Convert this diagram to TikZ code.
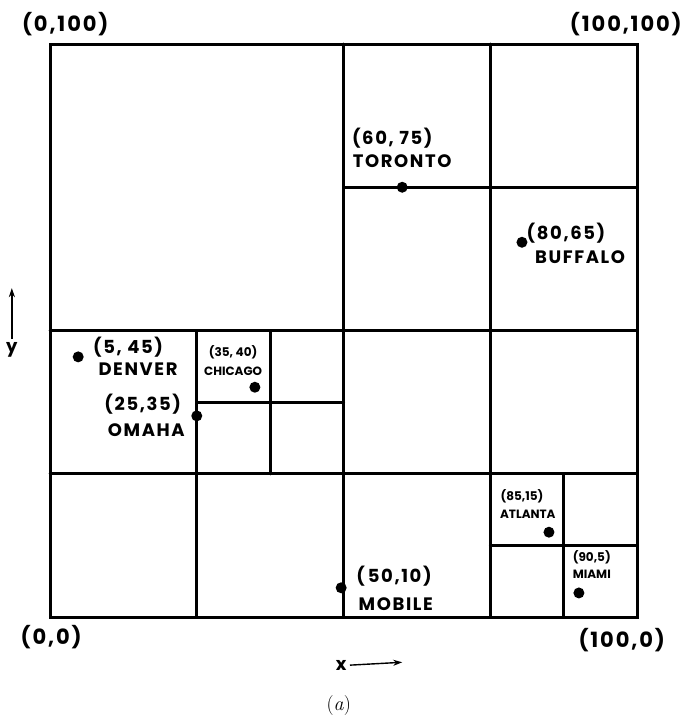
\documentclass[tikz,border=0pt]{standalone}
\usepackage{fontspec}
\usetikzlibrary{arrows.meta}
\newfontfamily\leroy[LetterSpace=9]{Poppins}
\newfontfamily\leroytight[LetterSpace=0]{Poppins}
\tikzset{
  cornerlbl/.style={font=\leroy\bfseries\fontsize{21}{23}\selectfont},
  citylbl/.style={font=\leroy\bfseries\fontsize{18}{20}\selectfont},
  smalllbl/.style={font=\leroytight\bfseries\fontsize{12}{13}\selectfont, inner sep=1pt},
  town/.style={circle, fill, inner sep=0pt, minimum size=11pt},
  cut/.style={line width=3pt, line cap=round},
  axisarrow/.style={-{Stealth[length=9pt, width=6pt]}, line width=1.4pt}
}
\begin{document}
\begin{tikzpicture}[x=5.87pt, y=5.73pt]
          \useasboundingbox (-8.52,-17.45) rectangle (110.56,107.68);
          % the partition
          \draw [cut] (0,0) rectangle (100,100);
          \draw [cut] (50,0) -- (50,100);
          \draw [cut] (75,0) -- (75,100);
          \draw [cut] (0,50) -- (100,50);
          \draw [cut] (0,25) -- (100,25);
          \draw [cut] (50,75) -- (100,75);
          \draw [cut] (25,0) -- (25,50);
          \draw [cut] (37.5,25) -- (37.5,50);
          \draw [cut] (25,37.5) -- (50,37.5);
          \draw [cut] (75,12.5) -- (100,12.5);
          \draw [cut] (87.5,0) -- (87.5,25);
          % corners
          \node (c00) [cornerlbl] at (0.2,-3.5) {(0,0)};
          \node (c10) [cornerlbl] at (97.4,-4.0) {(100,0)};
          \node (c01) [cornerlbl] at (2.6,103.5) {(0,100)};
          \node (c11) [cornerlbl] at (98.1,103.5) {(100,100)};
          % cities
          \node (toronto) [town] at (60,75) {};
          \node [citylbl] at (58.3,83.6) {(60, 75)};
          \node [citylbl] at (60.0,79.6) {TORONTO};
          \node (buffalo) [town] at (80.4,65.4) {};
          \node [citylbl] at (87.9,67.0) {(80,65)};
          \node [citylbl] at (90.3,62.8) {BUFFALO};
          \node (denver) [town] at (4.8,45.4) {};
          \node [citylbl] at (13.3,47.1) {(5, 45)};
          \node [citylbl] at (15.0,43.3) {DENVER};
          \node (chicago) [town] at (34.9,40.1) {};
          \node [smalllbl] at (31.2,46.2) {(35, 40)};
          \node [smalllbl] at (31.2,42.8) {CHICAGO};
          \node (omaha) [town] at (25,35.1) {};
          \node [citylbl] at (15.8,37.2) {(25,35)};
          \node [citylbl] at (16.4,32.6) {OMAHA};
          \node (mobile) [town] at (49.6,5.1) {};
          \node [citylbl] at (58.6,7.2) {(\,50,10)};
          \node [citylbl] at (58.9,2.3) {MOBILE};
          \node (atlanta) [town] at (85,14.8) {};
          \node [smalllbl] at (80.4,21.1) {(85,15)};
          \node [smalllbl] at (81.4,18.0) {ATLANTA};
          \node (miami) [town] at (90.1,4.2) {};
          \node [smalllbl] at (92.3,10.5) {(90,5)};
          \node [smalllbl] at (92.3,7.5) {MIAMI};
          % axes
          \node (xlbl) [citylbl] at (49.6,-8.4) {x};
          \coordinate (xend) at (60,-7.9);
          \draw [axisarrow] (xlbl.east) -- (xend);
          \node (ylbl) [citylbl] at (-6.5,46.6) {y};
          \coordinate (yend) at (-6.5,57.4);
          \draw [axisarrow] (ylbl.north) -- (yend);
          \node (cap) [font=\fontsize{20}{22}\selectfont] at (49.2,-15.4) {(\textit{a})};
\end{tikzpicture}
\end{document}
